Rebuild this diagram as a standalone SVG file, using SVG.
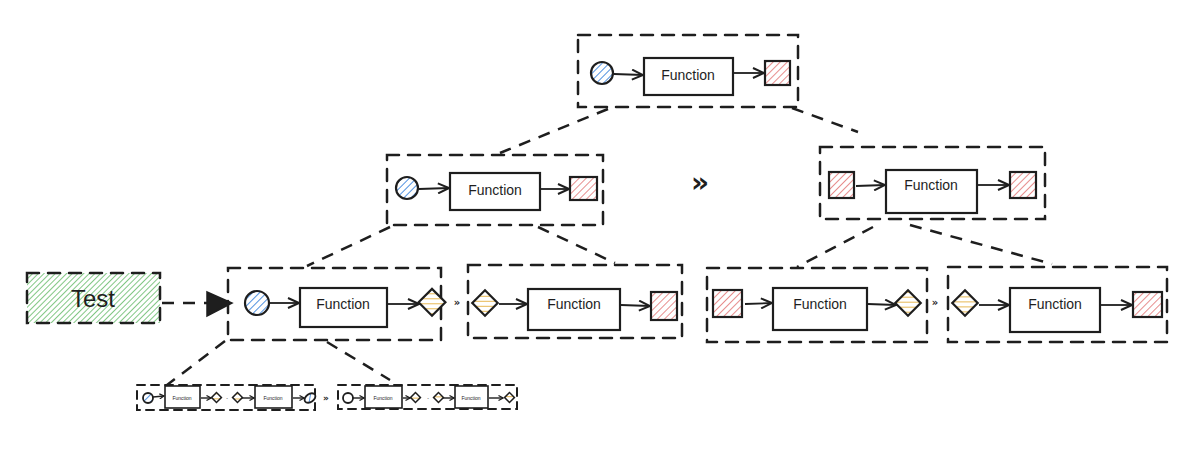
<svg xmlns="http://www.w3.org/2000/svg" width="1200" height="450" viewBox="0 0 1200 450">
<defs>
<style>
.frame{fill:none;stroke:#1e1e1e;stroke-width:2.5;stroke-dasharray:12 9;stroke-linecap:round}
.link{fill:none;stroke:#1e1e1e;stroke-width:2.5;stroke-dasharray:12 9}
.fn{fill:#fff;stroke:#1e1e1e;stroke-width:2.2}
.fns{fill:#fff;stroke:#1e1e1e;stroke-width:1.6}
.arr{fill:none;stroke:#1e1e1e;stroke-width:1.8;marker-end:url(#oa)}
.arrs{fill:none;stroke:#1e1e1e;stroke-width:1.4}
.blue{fill:url(#hb);stroke:#1e1e1e;stroke-width:2.2}
.red{fill:url(#hr);stroke:#1e1e1e;stroke-width:2.2}
.yel{fill:url(#hy);stroke:#1e1e1e;stroke-width:2.2}
.txt{font-family:"Liberation Sans",Arial,sans-serif;font-size:14px;fill:#1e1e1e;text-anchor:middle;dominant-baseline:central}
.txs{font-family:"Liberation Sans",Arial,sans-serif;font-size:5px;fill:#1e1e1e;text-anchor:middle;dominant-baseline:central}
.sep{font-family:"DejaVu Sans",sans-serif;font-weight:bold;fill:#1e1e1e;text-anchor:middle;dominant-baseline:central}
</style>
<pattern id="hb" patternUnits="userSpaceOnUse" width="5" height="5" patternTransform="rotate(45)"><rect width="5" height="5" fill="#fff"/><line x1="0" y1="0" x2="0" y2="5" stroke="#3d86de" stroke-width="1.8"/></pattern>
<pattern id="hr" patternUnits="userSpaceOnUse" width="5" height="5" patternTransform="rotate(45)"><rect width="5" height="5" fill="#fff"/><line x1="0" y1="0" x2="0" y2="5" stroke="#e06868" stroke-width="1.5"/></pattern>
<pattern id="hy" patternUnits="userSpaceOnUse" width="5" height="5" patternTransform="rotate(45)"><rect width="5" height="5" fill="#fff"/><line x1="0" y1="0" x2="0" y2="5" stroke="#e5b040" stroke-width="1.8"/></pattern>
<pattern id="hg" patternUnits="userSpaceOnUse" width="4" height="4" patternTransform="rotate(45)"><rect width="4" height="4" fill="#fff"/><line x1="0" y1="0" x2="0" y2="4" stroke="#4caf50" stroke-width="1.4"/></pattern>
<marker id="oa" markerUnits="userSpaceOnUse" markerWidth="14" markerHeight="12" refX="12" refY="6" orient="auto"><path d="M1,1 L12,6 L1,11" fill="none" stroke="#1e1e1e" stroke-width="2"/></marker>
<marker id="oas" markerUnits="userSpaceOnUse" markerWidth="6" markerHeight="6" refX="5" refY="3" orient="auto"><path d="M0.5,0.5 L5,3 L0.5,5.5" fill="none" stroke="#1e1e1e" stroke-width="1.2"/></marker>
</defs>
<rect width="1200" height="450" fill="#fff"/>

<g id="connectors">
<line class="link" x1="608" y1="109" x2="500" y2="153"/>
<line class="link" x1="792" y1="108" x2="858" y2="132"/>
<line class="link" x1="390" y1="227" x2="307" y2="266"/>
<line class="link" x1="538" y1="227" x2="615" y2="263"/>
<line class="link" x1="873" y1="227" x2="797" y2="267"/>
<line class="link" x1="910" y1="225" x2="1052" y2="264"/>
<line class="link" x1="225" y1="341" x2="167" y2="385"/>
<line class="link" x1="327" y1="342" x2="390" y2="380"/>
<line class="link" x1="162" y1="303" x2="207" y2="303"/>
<polygon points="207,292 232,303 207,316" fill="#1e1e1e" stroke="#1e1e1e" stroke-width="1.5"/>
</g>

<g id="test">
<rect x="27" y="273" width="133" height="50" fill="url(#hg)" stroke="none"/>
<rect class="frame" x="27" y="273" width="133" height="50"/>
<text x="93" y="298" font-family="Liberation Sans,Arial,sans-serif" font-size="24" fill="#1e1e1e" text-anchor="middle" dominant-baseline="central">Test</text>
</g>

<g id="top">
<rect class="frame" x="578" y="35" width="220" height="72"/>
<circle class="blue" cx="602" cy="73" r="11"/>
<line class="arr" x1="614" y1="74" x2="643" y2="75"/>
<rect class="fn" x="644" y="58" width="89" height="37"/>
<text class="txt" x="688" y="75">Function</text>
<line class="arr" x1="734" y1="73" x2="764" y2="73"/>
<rect class="red" x="765" y="61" width="25" height="24"/>
</g>

<g id="midLeft">
<rect class="frame" x="387" y="155" width="216" height="70"/>
<circle class="blue" cx="407" cy="188" r="11"/>
<line class="arr" x1="419" y1="189" x2="449" y2="188"/>
<rect class="fn" x="450" y="173" width="90" height="37"/>
<text class="txt" x="495" y="190">Function</text>
<line class="arr" x1="541" y1="189" x2="569" y2="189"/>
<rect class="red" x="570" y="177" width="27" height="23"/>
</g>

<text class="sep" x="700" y="182" font-size="28">»</text>

<g id="midRight">
<rect class="frame" x="820" y="147" width="225" height="72"/>
<rect class="red" x="829" y="172" width="25" height="26"/>
<line class="arr" x1="856" y1="186" x2="885" y2="185"/>
<rect class="fn" x="886" y="170" width="91" height="43"/>
<text class="txt" x="931" y="185">Function</text>
<line class="arr" x1="978" y1="185" x2="1009" y2="185"/>
<rect class="red" x="1010" y="172" width="26" height="26"/>
</g>

<g id="boxA">
<rect class="frame" x="228" y="268" width="213" height="72"/>
<circle class="blue" cx="257" cy="303" r="12"/>
<line class="arr" x1="270" y1="303" x2="299" y2="303"/>
<rect class="fn" x="300" y="288" width="87" height="39"/>
<text class="txt" x="343" y="304">Function</text>
<line class="arr" x1="388" y1="304" x2="419" y2="304"/>
<rect class="yel" x="422" y="293" width="19" height="19" transform="rotate(45 432 303)"/>
</g>

<text class="sep" x="457" y="302" font-size="10">»</text>

<g id="boxB">
<rect class="frame" x="468" y="265" width="214" height="73"/>
<rect class="yel" x="476" y="294" width="18" height="18" transform="rotate(45 485 303)"/>
<line class="arr" x1="499" y1="304" x2="527" y2="304"/>
<rect class="fn" x="528" y="289" width="92" height="41"/>
<text class="txt" x="574" y="304">Function</text>
<line class="arr" x1="621" y1="305" x2="650" y2="306"/>
<rect class="red" x="651" y="292" width="26" height="28"/>
</g>

<g id="boxC">
<rect class="frame" x="707" y="268" width="220" height="74"/>
<rect class="red" x="713" y="290" width="29" height="27"/>
<line class="arr" x1="745" y1="304" x2="772" y2="303"/>
<rect class="fn" x="773" y="288" width="94" height="42"/>
<text class="txt" x="820" y="304">Function</text>
<line class="arr" x1="868" y1="304" x2="896" y2="305"/>
<rect class="yel" x="899" y="294" width="18" height="18" transform="rotate(45 908 303)"/>
</g>

<text class="sep" x="935" y="302" font-size="10">»</text>

<g id="boxD">
<rect class="frame" x="948" y="267" width="219" height="75"/>
<rect class="yel" x="956" y="294" width="18" height="18" transform="rotate(45 965 303)"/>
<line class="arr" x1="979" y1="305" x2="1009" y2="305"/>
<rect class="fn" x="1010" y="288" width="90" height="44"/>
<text class="txt" x="1055" y="304">Function</text>
<line class="arr" x1="1101" y1="305" x2="1132" y2="305"/>
<rect class="red" x="1133" y="292" width="29" height="25"/>
</g>

<g id="boxE">
<rect class="frame" x="137" y="385" width="178" height="25" style="stroke-width:2;stroke-dasharray:8 6"/>
<circle class="blue" cx="148" cy="398" r="5" style="stroke-width:1.8"/>
<line class="arrs" x1="153" y1="397" x2="164" y2="396" marker-end="url(#oas)"/>
<rect class="fns" x="165" y="386" width="35" height="22"/>
<text class="txs" x="182" y="398">Function</text>
<line class="arrs" x1="201" y1="398" x2="211" y2="398" marker-end="url(#oas)"/>
<rect class="yel" x="213" y="394" width="7" height="7" transform="rotate(45 216.5 397.5)" style="stroke-width:1.5"/>
<text class="txs" x="227" y="398">-</text>
<rect class="yel" x="234" y="394" width="7" height="7" transform="rotate(45 237.5 397.5)" style="stroke-width:1.5"/>
<line class="arrs" x1="242" y1="398" x2="254" y2="398" marker-end="url(#oas)"/>
<rect class="fns" x="255" y="386" width="37" height="22"/>
<text class="txs" x="273" y="398">Function</text>
<line class="arrs" x1="293" y1="398" x2="304" y2="398" marker-end="url(#oas)"/>
<ellipse class="blue" cx="310" cy="398" rx="6" ry="4" transform="rotate(-35 310 398)" style="stroke-width:1.8"/>
</g>

<text class="sep" x="326" y="398" font-size="9">»</text>

<g id="boxF">
<rect class="frame" x="338" y="385" width="179" height="24" style="stroke-width:2;stroke-dasharray:8 6"/>
<circle cx="348" cy="398" r="5" fill="#fff" stroke="#1e1e1e" stroke-width="1.8"/>
<line class="arrs" x1="353" y1="398" x2="364" y2="398" marker-end="url(#oas)"/>
<rect class="fns" x="365" y="386" width="37" height="22"/>
<text class="txs" x="383" y="398">Function</text>
<line class="arrs" x1="403" y1="398" x2="410" y2="398" marker-end="url(#oas)"/>
<rect class="yel" x="412" y="394" width="7" height="7" transform="rotate(45 415.5 397.5)" style="stroke-width:1.5"/>
<text class="txs" x="428" y="398">-</text>
<rect class="yel" x="435" y="394" width="7" height="7" transform="rotate(45 438.5 397.5)" style="stroke-width:1.5"/>
<line class="arrs" x1="443" y1="398" x2="454" y2="398" marker-end="url(#oas)"/>
<rect class="fns" x="455" y="386" width="33" height="22"/>
<text class="txs" x="471" y="398">Function</text>
<line class="arrs" x1="489" y1="398" x2="503" y2="398" marker-end="url(#oas)"/>
<rect class="yel" x="506" y="394" width="7" height="7" transform="rotate(45 509.5 397.5)" style="stroke-width:1.5"/>
</g>
</svg>
